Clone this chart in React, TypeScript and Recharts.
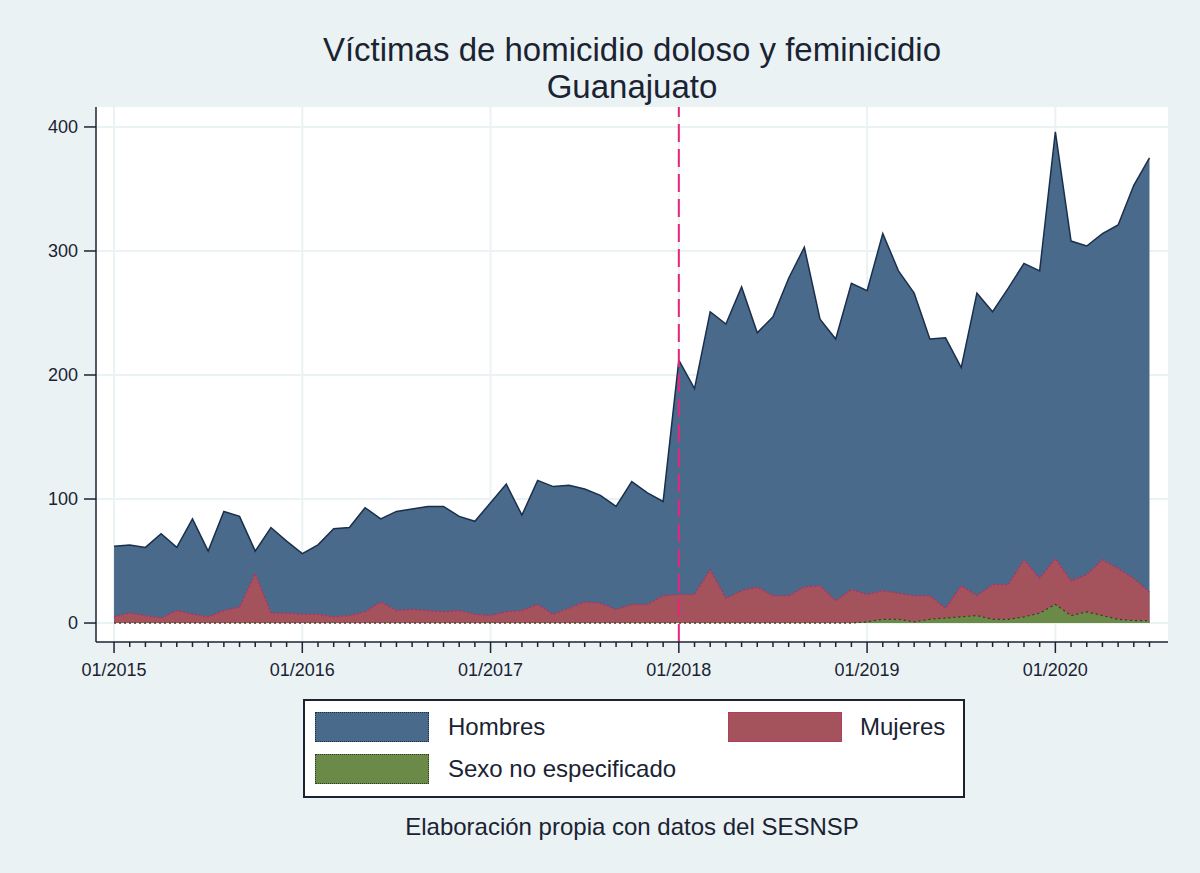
import { ComposedChart, Area, XAxis, YAxis, CartesianGrid, ReferenceLine } from 'recharts';

// monthly values, 01/2015 .. 07/2020
const hombres = [
  62, 63, 61, 72, 61, 84, 58, 90, 86, 58, 77, 66,
  56, 63, 76, 77, 93, 84, 90, 92, 94, 94, 86, 82,
  97, 112, 87, 115, 110, 111, 108, 103, 94, 114, 105, 98,
  212, 189, 251, 241, 271, 234, 247, 278, 303, 245, 229, 274,
  268, 314, 284, 266, 229, 230, 206, 266, 251, 270, 290, 284,
  396, 308, 304, 314, 321, 353, 375,
];
const mujeres = [
  5, 8, 6, 4, 10, 7, 5, 10, 13, 40, 8, 8,
  7, 7, 5, 6, 9, 17, 10, 11, 10, 9, 10, 7,
  6, 9, 10, 15, 7, 12, 17, 16, 11, 15, 15, 22,
  23, 23, 43, 20, 26, 29, 22, 22, 29, 30, 18, 27,
  23, 26, 24, 22, 22, 12, 30, 22, 31, 31, 51, 36,
  52, 34, 39, 51, 44, 36, 25,
];
const sexoNoEsp = [
  0, 0, 0, 0, 0, 0, 0, 0, 0, 0, 0, 0,
  0, 0, 0, 0, 0, 0, 0, 0, 0, 0, 0, 0,
  0, 0, 0, 0, 0, 0, 0, 0, 0, 0, 0, 0,
  0, 0, 0, 0, 0, 0, 0, 0, 0, 0, 0, 0,
  1, 3, 3, 1, 3, 4, 5, 6, 3, 3, 5, 8,
  15, 6, 9, 6, 3, 2, 2,
];
const yearLabels = ['01/2015', '01/2016', '01/2017', '01/2018', '01/2019', '01/2020'];
const yTicks = [0, 100, 200, 300, 400];

const data = hombres.map((h, i) => ({ i, hombres: h, mujeres: mujeres[i], sexo: sexoNoEsp[i] }));
const monthTicks = data.map(d => d.i);
const yearTicks = yearLabels.map((_, k) => k * 12);

const BG = '#EAF2F3';
const INK = '#1b2333';
const BLUE = '#4A6A8B';
const RED = '#A4535C';
const GREEN = '#6B8A48';
const FONT = '"Liberation Sans", Arial, Helvetica, sans-serif';

const XTick = (props: any) => {
  const { x, y, payload } = props;
  const v = payload.value;
  const major = v % 12 === 0;
  return (
    <g>
      <line x1={x} x2={x} y1={y} y2={y + (major ? 11 : 5)} stroke={INK} strokeWidth={1.5} />
      {major && (
        <text x={x} y={y + 34} textAnchor="middle" fontSize={18} fill={INK} fontFamily={FONT}>
          {yearLabels[v / 12]}
        </text>
      )}
    </g>
  );
};

const swatch = (left: number, top: number, color: string, border: string) => (
  <div style={{ position: 'absolute', left, top, width: 112, height: 28, background: color, border: `1px dotted ${border}` }} />
);

const label = (left: number, top: number, text: string) => (
  <div style={{ position: 'absolute', left, top, height: 30, lineHeight: '30px', fontSize: 24, color: INK }}>{text}</div>
);

export default function App() {
  return (
    <div style={{ position: 'absolute', left: 0, top: 0, width: 1200, height: 873, background: BG, fontFamily: FONT }}>
      <div style={{ position: 'absolute', left: 96, width: 1072, top: 31, textAlign: 'center', fontSize: 33, lineHeight: '37px', color: INK }}>
        Víctimas de homicidio doloso y feminicidio
        <br />
        Guanajuato
      </div>

      <ComposedChart
        width={1200}
        height={873}
        data={data}
        margin={{ top: 107, right: 32, bottom: 191, left: 36 }}
        style={{ position: 'absolute', left: 0, top: 0 }}
      >
        <CartesianGrid
          fill="#ffffff"
          fillOpacity={1}
          stroke={BG}
          strokeWidth={2}
          horizontalValues={yTicks}
          verticalValues={yearTicks}
        />
        <XAxis
          dataKey="i"
          type="number"
          domain={[-1.15, 67.18]}
          ticks={monthTicks}
          interval={0}
          tickSize={0}
          tickMargin={0}
          tickLine={false}
          tick={<XTick />}
          height={40}
          stroke={INK}
          strokeWidth={1.5}
          allowDataOverflow
        />
        <YAxis
          type="number"
          domain={[-15.3, 416.1]}
          ticks={yTicks}
          width={60}
          tickSize={12}
          tickMargin={6}
          stroke={INK}
          strokeWidth={1.5}
          tick={{ fill: INK, fontSize: 18, fontFamily: FONT }}
          tickLine={{ stroke: INK, strokeWidth: 1.5 }}
          allowDataOverflow
        />
        <Area
          type="linear"
          dataKey="hombres"
          baseValue={0}
          fill={BLUE}
          fillOpacity={1}
          stroke="#1a2f4c"
          strokeWidth={1.5}
          dot={false}
          activeDot={false}
          isAnimationActive={false}
        />
        <Area
          type="linear"
          dataKey="mujeres"
          baseValue={0}
          fill={RED}
          fillOpacity={1}
          stroke="#c0285f"
          strokeWidth={1.2}
          strokeDasharray="2 2"
          dot={false}
          activeDot={false}
          isAnimationActive={false}
        />
        <Area
          type="linear"
          dataKey="sexo"
          baseValue={0}
          fill={GREEN}
          fillOpacity={1}
          stroke="#2c3f1e"
          strokeWidth={1.2}
          strokeDasharray="2 3"
          dot={false}
          activeDot={false}
          isAnimationActive={false}
        />
        <ReferenceLine x={36} stroke="#E8257C" strokeWidth={2} strokeDasharray="18 7" />
      </ComposedChart>

      <div style={{ position: 'absolute', left: 303, top: 699, width: 658, height: 95, background: '#ffffff', border: `2px solid ${INK}` }} />
      {swatch(315, 712, BLUE, '#1a2f4c')}
      {label(448, 712, 'Hombres')}
      {swatch(728, 712, RED, '#c0285f')}
      {label(860, 712, 'Mujeres')}
      {swatch(315, 754, GREEN, '#2c3f1e')}
      {label(448, 754, 'Sexo no especificado')}

      <div style={{ position: 'absolute', left: 96, width: 1072, top: 815, textAlign: 'center', fontSize: 24, lineHeight: '24px', color: INK }}>
        Elaboración propia con datos del SESNSP
      </div>
    </div>
  );
}
